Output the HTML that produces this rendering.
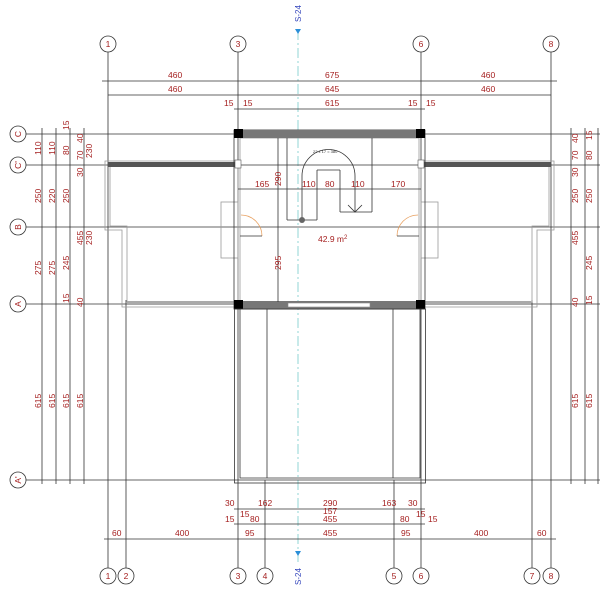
<!DOCTYPE html>
<html><head><style>html,body{margin:0;padding:0;background:#fff}svg{display:block}
text{font-family:"Liberation Sans",sans-serif;font-size:8.5px;fill:#a52020}
.g{stroke:#333;stroke-width:0.8;fill:none}
.l{stroke:#999;stroke-width:0.8;fill:none}
.c{stroke:#333;stroke-width:0.8;fill:#fff}
.ct{font-size:9px;fill:#8b1a1a;text-anchor:middle}
</style></head><body>
<svg width="600" height="600" viewBox="0 0 600 600" xmlns="http://www.w3.org/2000/svg">
<line x1="298" y1="30" x2="298" y2="565" stroke="#7cc" stroke-width="0.8" stroke-dasharray="10,3,2,3"/>
<polygon points="295,29 301,29 298,34" fill="#2a8fd8"/>
<text x="0" y="0" transform="translate(301,22) rotate(-90)" style="fill:#3344bb;font-size:8px">S-24</text>
<polygon points="295,551 301,551 298,556" fill="#2a8fd8"/>
<text x="0" y="0" transform="translate(301,585) rotate(-90)" style="fill:#3344bb;font-size:8px">S-24</text>

<g class="g">
<line x1="108" y1="52" x2="108" y2="568"/><line x1="126" y1="300" x2="126" y2="568"/>
<line x1="238" y1="52" x2="238" y2="568"/><line x1="265" y1="480" x2="265" y2="568"/>
<line x1="394" y1="480" x2="394" y2="568"/><line x1="421" y1="52" x2="421" y2="568"/>
<line x1="532" y1="300" x2="532" y2="568"/><line x1="551" y1="52" x2="551" y2="568"/>
<line x1="26" y1="134" x2="600" y2="134"/><line x1="26" y1="165" x2="600" y2="165"/>
<line x1="26" y1="227" x2="600" y2="227"/><line x1="26" y1="304" x2="600" y2="304"/>
<line x1="26" y1="480" x2="600" y2="480"/>
</g>
<g class="c">
<circle cx="108" cy="44" r="8"/><circle cx="238" cy="44" r="8"/><circle cx="421" cy="44" r="8"/><circle cx="551" cy="44" r="8"/>
<circle cx="108" cy="576" r="8"/><circle cx="126" cy="576" r="8"/><circle cx="238" cy="576" r="8"/><circle cx="265" cy="576" r="8"/>
<circle cx="394" cy="576" r="8"/><circle cx="421" cy="576" r="8"/><circle cx="532" cy="576" r="8"/><circle cx="551" cy="576" r="8"/>
<circle cx="18" cy="134" r="8"/><circle cx="18" cy="165" r="8"/><circle cx="18" cy="227" r="8"/><circle cx="18" cy="304" r="8"/><circle cx="18" cy="480" r="8"/>
</g>
<g class="ct">
<text x="108" y="47">1</text><text x="238" y="47">3</text><text x="421" y="47">6</text><text x="551" y="47">8</text>
<text x="108" y="579">1</text><text x="126" y="579">2</text><text x="238" y="579">3</text><text x="265" y="579">4</text>
<text x="394" y="579">5</text><text x="421" y="579">6</text><text x="532" y="579">7</text><text x="551" y="579">8</text>
<text transform="translate(18,134) rotate(-90)" y="3">C</text><text transform="translate(18,165) rotate(-90)" y="3">C'</text><text transform="translate(18,227) rotate(-90)" y="3">B</text><text transform="translate(18,304) rotate(-90)" y="3">A</text><text transform="translate(18,480) rotate(-90)" y="3">A'</text>
</g>

<g class="g">
<line x1="102" y1="81" x2="557" y2="81"/><line x1="108" y1="95" x2="551" y2="95"/><line x1="234" y1="109" x2="425" y2="109"/>
</g>
<text x="168" y="78">460</text><text x="325" y="78">675</text><text x="481" y="78">460</text>
<text x="168" y="92">460</text><text x="325" y="92">645</text><text x="481" y="92">460</text>
<text x="224" y="106">15</text><text x="243" y="106">15</text><text x="325" y="106">615</text><text x="408" y="106">15</text><text x="426" y="106">15</text>

<g class="g">
<line x1="234" y1="509" x2="425" y2="509"/><line x1="234" y1="524" x2="425" y2="524"/><line x1="104" y1="539" x2="556" y2="539"/>
</g>
<text x="225" y="506">30</text><text x="258" y="506">162</text><text x="323" y="506">290</text><text x="382" y="506">163</text><text x="408" y="506">30</text>
<text x="240" y="517">15</text><text x="323" y="514">157</text><text x="416" y="517">15</text>
<text x="225" y="522">15</text><text x="250" y="522">80</text><text x="323" y="522">455</text><text x="400" y="522">80</text><text x="428" y="522">15</text>
<text x="112" y="536">60</text><text x="175" y="536">400</text><text x="245" y="536">95</text><text x="323" y="536">455</text><text x="401" y="536">95</text><text x="474" y="536">400</text><text x="537" y="536">60</text>

<g class="g">
<line x1="42" y1="128" x2="42" y2="484"/><line x1="56" y1="128" x2="56" y2="484"/><line x1="70" y1="128" x2="70" y2="484"/><line x1="84" y1="128" x2="84" y2="484"/>
<line x1="571" y1="128" x2="571" y2="484"/><line x1="585" y1="128" x2="585" y2="484"/><line x1="598" y1="128" x2="598" y2="484"/>
</g>
<g>
<text transform="translate(41,155) rotate(-90)">110</text><text transform="translate(41,203) rotate(-90)">250</text><text transform="translate(41,275) rotate(-90)">275</text><text transform="translate(41,408) rotate(-90)">615</text>
<text transform="translate(55,155) rotate(-90)">110</text><text transform="translate(55,203) rotate(-90)">220</text><text transform="translate(55,275) rotate(-90)">275</text><text transform="translate(55,408) rotate(-90)">615</text>
<text transform="translate(69,130) rotate(-90)">15</text><text transform="translate(69,155) rotate(-90)">80</text><text transform="translate(69,203) rotate(-90)">250</text><text transform="translate(69,270) rotate(-90)">245</text><text transform="translate(69,303) rotate(-90)">15</text><text transform="translate(69,408) rotate(-90)">615</text>
<text transform="translate(83,143) rotate(-90)">40</text><text transform="translate(83,160) rotate(-90)">70</text><text transform="translate(92,158) rotate(-90)">230</text><text transform="translate(83,177) rotate(-90)">30</text><text transform="translate(83,245) rotate(-90)">455</text><text transform="translate(92,245) rotate(-90)">230</text><text transform="translate(83,307) rotate(-90)">40</text><text transform="translate(83,408) rotate(-90)">615</text>
<text transform="translate(578,143) rotate(-90)">40</text><text transform="translate(578,160) rotate(-90)">70</text><text transform="translate(578,177) rotate(-90)">30</text><text transform="translate(578,203) rotate(-90)">250</text><text transform="translate(578,245) rotate(-90)">455</text><text transform="translate(578,307) rotate(-90)">40</text><text transform="translate(578,408) rotate(-90)">615</text>
<text transform="translate(592,140) rotate(-90)">15</text><text transform="translate(592,160) rotate(-90)">80</text><text transform="translate(592,203) rotate(-90)">250</text><text transform="translate(592,270) rotate(-90)">245</text><text transform="translate(592,305) rotate(-90)">15</text><text transform="translate(592,408) rotate(-90)">615</text>
</g>

<polygon points="105,161 238,161 238,307 122,307 122,230 105,230" class="l"/>
<polyline points="110,167 110,226 127,226 127,302 238,302" class="l" stroke-width="2"/>
<rect x="108" y="162" width="128" height="5" fill="#555"/>
<rect x="127" y="301" width="108" height="4" fill="#aaa"/>
<rect x="221" y="202" width="17" height="56" class="l"/>
<polygon points="421,161 554,161 554,230 537,230 537,307 421,307" class="l"/>
<polyline points="549,167 549,226 532,226 532,302 421,302" class="l" stroke-width="2"/>
<rect x="423" y="162" width="128" height="5" fill="#555"/>
<rect x="423" y="301" width="108" height="4" fill="#aaa"/>
<rect x="421" y="202" width="17" height="56" class="l"/>

<rect x="234" y="130" width="191" height="179" class="g"/>
<rect x="240" y="138" width="179" height="164" class="l"/>
<rect x="238" y="130" width="183" height="8" fill="#777"/>
<rect x="238" y="301" width="183" height="8" fill="#777"/>
<rect x="288" y="303" width="82" height="4" fill="#fff" stroke="#888" stroke-width="0.6"/>
<rect x="234" y="129" width="9" height="9" fill="#000"/><rect x="416" y="129" width="9" height="9" fill="#000"/>
<rect x="234" y="300" width="9" height="9" fill="#000"/><rect x="416" y="300" width="9" height="9" fill="#000"/>
<rect x="235" y="160" width="6" height="8" fill="#fff" stroke="#555" stroke-width="0.6"/>
<rect x="418" y="160" width="6" height="8" fill="#fff" stroke="#555" stroke-width="0.6"/>
<path d="M241,215 A21,21 0 0 1 262,236" fill="none" stroke="#e8a060" stroke-width="0.8"/>
<line x1="240" y1="236" x2="262" y2="236" class="g"/>
<path d="M418,215 A21,21 0 0 0 397,236" fill="none" stroke="#e8a060" stroke-width="0.8"/>
<line x1="397" y1="236" x2="419" y2="236" class="g"/>
<g class="g">
<line x1="287" y1="138" x2="287" y2="220"/><line x1="287" y1="220" x2="317" y2="220"/><line x1="317" y1="220" x2="317" y2="170"/>
<line x1="317" y1="170" x2="340" y2="170"/><line x1="340" y1="170" x2="340" y2="212"/><line x1="340" y1="212" x2="372" y2="212"/><line x1="372" y1="138" x2="372" y2="212"/>
<path d="M302,220 L302,176 A26,26 0 0 1 355,176 L355,212"/>
<path d="M348,205 L355,212 L362,205"/>
<line x1="238" y1="189" x2="421" y2="189"/>
<line x1="278" y1="138" x2="278" y2="302"/>
</g>
<circle cx="302" cy="220" r="3" fill="#666"/>
<text x="313" y="153" style="font-size:4px;fill:#333">22 x 17 = 380</text>
<text x="255" y="187">165</text><text x="302" y="187">110</text><text x="325" y="187">80</text><text x="351" y="187">110</text><text x="391" y="187">170</text>
<text transform="translate(281,186) rotate(-90)">290</text>
<text transform="translate(281,270) rotate(-90)">295</text>
<text x="318" y="242">42.9 m<tspan dy="-3" style="font-size:6px">2</tspan></text>

<rect x="234.5" y="309" width="191" height="174" class="g"/>
<polyline points="240,309 240,478 420,478 420,309" class="g"/>
<line x1="267" y1="309" x2="267" y2="478" class="g"/>
<line x1="393" y1="309" x2="393" y2="478" class="g"/>
</svg>
</body></html>
